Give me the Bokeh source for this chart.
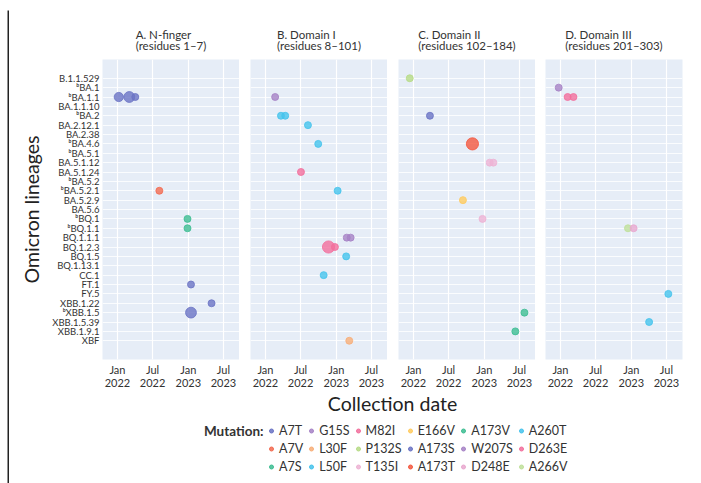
import pandas as pd
from bokeh.plotting import figure
from bokeh.models import (ColumnDataSource, FactorRange, Range1d, Title,
                          DatetimeTickFormatter, MonthsTicker, Legend,
                          LegendItem, Label)
from bokeh.layouts import row, column
from bokeh.embed import file_html
from bokeh.resources import INLINE

FONT = "Lato"

# ---------------- data ----------------
lineages = ["B.1.1.529", "ᵇBA.1", "ᵇBA.1.1", "BA.1.1.10", "ᵇBA.2", "BA.2.12.1",
            "BA.2.38", "ᵇBA.4.6", "ᵇBA.5.1", "BA.5.1.12", "BA.5.1.24", "ᵇBA.5.2",
            "ᵇBA.5.2.1", "BA.5.2.9", "BA.5.6", "ᵇBQ.1", "ᵇBQ.1.1", "BQ.1.1.1",
            "BQ.1.2.3", "BQ.1.5", "BQ.1.13.1", "CC.1", "FT.1", "FY.5", "XBB.1.22",
            "ᵇXBB.1.5", "XBB.1.5.39", "XBB.1.9.1", "XBF"]

mutations = ["A7T", "A7V", "A7S", "G15S", "L30F", "L50F", "M82I", "P132S", "T135I",
             "E166V", "A173S", "A173T", "A173V", "W207S", "D248E", "A260T", "D263E", "A266V"]
mut_colors = ["#6A73C4", "#F26A50", "#3DBD92", "#A682C6", "#F8AE78", "#45C3EC",
              "#F26E9C", "#B6DB86", "#EDB3D4", "#FFCB5E", "#6A73C4", "#F4583E",
              "#3DBD92", "#A682C6", "#E9A8CF", "#45C3EC", "#F26E9C", "#BFE09A"]

panel_titles = ["A. N-finger\n(residues 1–7)", "B. Domain I\n(residues 8–101)",
                "C. Domain II\n(residues 102–184)", "D. Domain III\n(residues 201–303)"]

# Panel A
a_lineage = ["ᵇBA.1.1", "ᵇBA.1.1", "ᵇBA.1.1", "ᵇBA.5.2.1", "ᵇBQ.1", "ᵇBQ.1.1",
             "FT.1", "XBB.1.22", "ᵇXBB.1.5"]
a_date = ["2022-01-08", "2022-03-03", "2022-04-03", "2022-08-05", "2022-12-28",
          "2022-12-28", "2023-01-15", "2023-05-01", "2023-01-15"]
a_mut = ["A7T", "A7T", "A7T", "A7V", "A7S", "A7S", "A7T", "A7T", "A7T"]
a_n = [2, 3, 1, 1, 1, 1, 1, 1, 3]

# Panel B
b_lineage = ["ᵇBA.1.1", "ᵇBA.2", "ᵇBA.2", "BA.2.12.1", "ᵇBA.4.6", "BA.5.1.24",
             "ᵇBA.5.2.1", "BQ.1.1.1", "BQ.1.1.1", "BQ.1.2.3", "BQ.1.2.3", "BQ.1.5",
             "CC.1", "XBF"]
b_date = ["2022-02-20", "2022-03-22", "2022-04-13", "2022-08-08", "2022-09-30",
          "2022-07-03", "2023-01-08", "2023-02-24", "2023-03-16", "2022-11-22",
          "2022-12-25", "2023-02-21", "2022-10-28", "2023-03-09"]
b_mut = ["G15S", "L50F", "L50F", "L50F", "L50F", "M82I", "L50F", "G15S", "G15S",
         "M82I", "M82I", "L50F", "L50F", "L30F"]
b_n = [1, 1, 1, 1, 1, 1, 1, 1, 1, 4, 1, 1, 1, 1]

# Panel C
c_lineage = ["B.1.1.529", "ᵇBA.2", "ᵇBA.4.6", "BA.5.1.12", "BA.5.1.12", "BA.5.2.9",
             "ᵇBQ.1", "ᵇXBB.1.5", "XBB.1.9.1"]
c_date = ["2021-12-13", "2022-03-27", "2022-11-01", "2023-01-29", "2023-02-17",
          "2022-09-13", "2022-12-23", "2023-07-27", "2023-06-10"]
c_mut = ["P132S", "A173S", "A173T", "T135I", "T135I", "E166V", "T135I", "A173V", "A173V"]
c_n = [1, 1, 4, 1, 1, 1, 1, 1, 1]

# Panel D
d_lineage = ["ᵇBA.1", "ᵇBA.1.1", "ᵇBA.1.1", "ᵇBQ.1.1", "ᵇBQ.1.1", "FY.5", "XBB.1.5.39"]
d_date = ["2021-12-23", "2022-02-07", "2022-03-09", "2022-12-15", "2023-01-13",
          "2023-07-11", "2023-04-03"]
d_mut = ["W207S", "D263E", "D263E", "A266V", "D248E", "A260T", "A260T"]
d_n = [1, 1, 1, 1, 1, 1, 1]

x_start = pd.Timestamp("2021-10-16")
x_end = pd.Timestamp("2023-09-22")

# ---------------- figures ----------------
color_of = dict(zip(mutations, mut_colors))
panels = [(a_lineage, a_date, a_mut, a_n), (b_lineage, b_date, b_mut, b_n),
          (c_lineage, c_date, c_mut, c_n), (d_lineage, d_date, d_mut, d_n)]
left_borders = [93, 11, 11, 10]
right_borders = [0, 0, 0, 2]

figs = []
for i, (lin, dates, muts, ns) in enumerate(panels):
    src = ColumnDataSource(dict(
        x=pd.to_datetime(dates), y=lin,
        color=[color_of[m] for m in muts],
        size=[7.0 * n ** 0.4 for n in ns],
        mut=muts))
    p = figure(x_axis_type="datetime",
               x_range=Range1d(x_start, x_end),
               y_range=FactorRange(factors=lineages[::-1], range_padding=1.5,
                                   range_padding_units="absolute"),
               frame_width=137, frame_height=300,
               min_border_left=left_borders[i], min_border_right=right_borders[i],
               min_border_top=0, min_border_bottom=0,
               title=None, output_backend="svg", toolbar_location=None,
               background_fill_color="#E6EDF7", border_fill_color="white",
               outline_line_color=None)
    p.add_layout(Title(text=" ", text_font_size="1px", standoff=0), "above")
    p.add_layout(Title(text=panel_titles[i], align="center", text_font=FONT,
                       text_font_size="11.5px", text_font_style="normal",
                       text_color="#333333", text_line_height=0.85, standoff=9.5), "above")
    p.add_layout(Title(text=" ", text_font_size="1px", standoff=7), "above")
    p.scatter(x="x", y="y", size="size", fill_color="color", line_color="color",
              fill_alpha=0.8, line_alpha=0.8, source=src)

    p.xgrid.grid_line_color = "white"
    p.xgrid.grid_line_width = 1.2
    p.ygrid.grid_line_color = "white"
    p.ygrid.grid_line_width = 0.8

    p.xaxis.ticker = MonthsTicker(months=[0, 6])
    p.xaxis.formatter = DatetimeTickFormatter(months="%b\n%Y", years="%b\n%Y",
                                              days="%b\n%Y")
    p.xaxis.major_label_text_font = FONT
    p.xaxis.major_label_text_font_size = "11px"
    p.xaxis.major_label_text_line_height = 1.05
    p.xaxis.major_label_text_color = "#333333"
    p.xaxis.axis_line_color = None
    p.xaxis.major_tick_line_color = None
    p.xaxis.minor_tick_line_color = None
    p.xaxis.major_tick_out = 0
    p.xaxis.major_label_standoff = 3

    if i == 0:
        p.yaxis.axis_label = "Omicron lineages"
        p.yaxis.axis_label_text_font = FONT
        p.yaxis.axis_label_text_font_size = "19.5px"
        p.yaxis.axis_label_text_font_style = "normal"
        p.yaxis.axis_label_text_color = "#222222"
        p.yaxis.axis_label_standoff = 6
        p.yaxis.major_label_text_font = FONT
        p.yaxis.major_label_text_font_size = "9.5px"
        p.yaxis.major_label_text_color = "#333333"
        p.yaxis.axis_line_color = None
        p.yaxis.major_tick_line_color = None
        p.yaxis.major_tick_out = 0
        p.yaxis.major_label_standoff = 3
    else:
        p.yaxis.visible = False
    figs.append(p)

# ---------------- bottom: axis title + legend ----------------
BH = 86
bot = figure(width=675, height=BH, x_range=Range1d(0, 675), y_range=Range1d(BH, 0),
             min_border=0, x_axis_location=None, y_axis_location=None,
             output_backend="svg", toolbar_location=None, outline_line_color=None)
bot.grid.visible = False
bot.add_layout(Label(x=383, y=10.5, text="Collection date", text_align="center",
                     text_baseline="middle", text_font=FONT, text_font_size="19.5px",
                     text_color="#222222"))
bot.add_layout(Label(x=254, y=38.5, text="Mutation:", text_align="right",
                     text_baseline="middle", text_font=FONT, text_font_size="13.5px",
                     text_font_style="bold", text_color="#333333"))
items = []
for m, c in zip(mutations, mut_colors):
    r = bot.scatter(x=[-1000], y=[-1000], size=4, fill_color=c, line_color=c,
                    fill_alpha=0.85)
    items.append(LegendItem(label=m, renderers=[r]))
leg = Legend(items=items, orientation="vertical", nrows=3, location=(257, 4),
             border_line_color=None, background_fill_alpha=0, padding=0, margin=0,
             spacing=3, glyph_width=10, glyph_height=15, label_height=15,
             label_standoff=3, label_text_font=FONT, label_text_font_size="12.5px",
             label_text_color="#333333")
bot.add_layout(leg, "center")


def bar(w, h, color):
    b = figure(width=w, height=h, min_border=0, x_axis_location=None,
               y_axis_location=None, output_backend="svg", toolbar_location=None,
               outline_line_color=None, background_fill_color=color,
               border_fill_color=color)
    b.grid.visible = False
    return b


# frame border: top rule drawn in a thin strip figure
top_strip = figure(width=701, height=10, x_range=Range1d(0, 701), y_range=Range1d(10, 0),
                   min_border=0, x_axis_location=None, y_axis_location=None,
                   output_backend="svg", toolbar_location=None, outline_line_color=None,
                   background_fill_color="white", border_fill_color="white")
top_strip.grid.visible = False
top_strip.quad(left=[7], right=[701], top=[8], bottom=[10], fill_color="#222222",
               line_color=None)

left_space = bar(7, 473, "white")
left_bar = bar(2, 473, "#222222")

content = column(row(*figs), bot)
layout = column(top_strip, row(left_space, left_bar, content))

open("out.html", "w").write(file_html(layout, INLINE))
